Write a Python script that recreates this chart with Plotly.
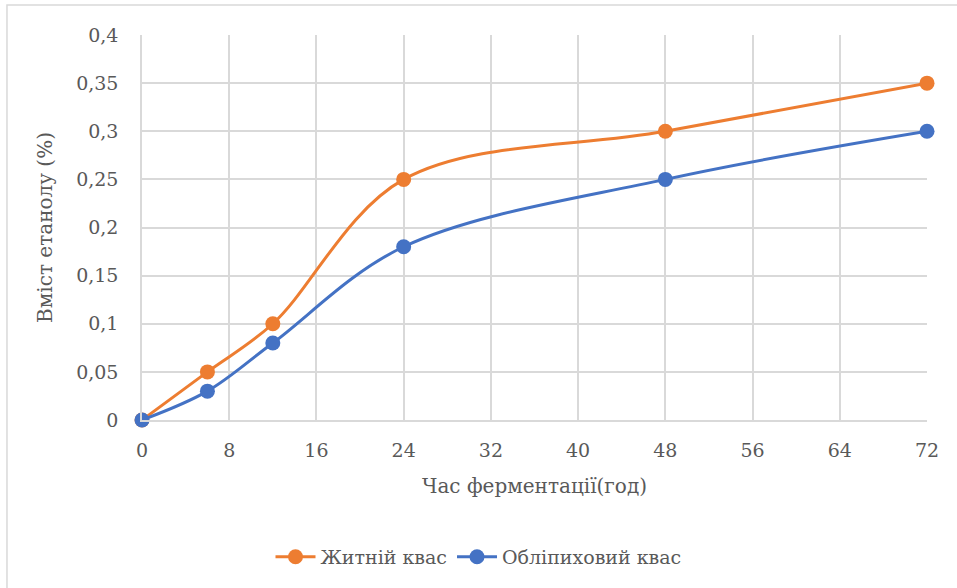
import plotly.graph_objects as go

hours = [0, 6, 12, 24, 48, 72]
rye_kvass = [0, 0.05, 0.10, 0.25, 0.30, 0.35]
buckthorn_kvass = [0, 0.03, 0.08, 0.18, 0.25, 0.30]

x_ticks = [0, 8, 16, 24, 32, 40, 48, 56, 64, 72]
y_ticks = [0, 0.05, 0.1, 0.15, 0.2, 0.25, 0.3, 0.35, 0.4]
y_tick_text = ["0", "0,05", "0,1", "0,15", "0,2", "0,25", "0,3", "0,35", "0,4"]

FONT = "DejaVu Serif"
TXT = "#595959"
GRID = "#d9d9d9"

fig = go.Figure()
fig.add_trace(go.Scatter(
    x=hours, y=rye_kvass, name="Житній квас", mode="lines+markers",
    line=dict(color="#ED7D31", width=3, shape="spline", smoothing=1),
    marker=dict(size=15, color="#ED7D31"),
))
fig.add_trace(go.Scatter(
    x=hours, y=buckthorn_kvass, name="Обліпиховий квас", mode="lines+markers",
    line=dict(color="#4472C4", width=3, shape="spline", smoothing=1),
    marker=dict(size=15, color="#4472C4"),
))

fig.update_layout(
    width=957, height=588,
    margin=dict(l=142, r=30, t=35, b=168),
    paper_bgcolor="white", plot_bgcolor="white",
    font=dict(family=FONT, color=TXT, size=19),
    showlegend=True,
    legend=dict(orientation="h", xref="container", yref="container",
                x=0.5, xanchor="center", y=0.053, yanchor="middle",
                font=dict(family=FONT, size=19, color=TXT),
                itemwidth=40, tracegroupgap=0),
    shapes=[dict(type="rect", xref="paper", yref="paper",
                 x0=-0.172, x1=1.3, y0=-1.0, y1=1.078,
                 line=dict(color="#d9d9d9", width=1.5), layer="below")],
)
fig.update_xaxes(
    range=[0, 72], tickvals=x_ticks, ticktext=[str(v) for v in x_ticks],
    showgrid=True, gridcolor=GRID, gridwidth=1.5,
    showline=True, linecolor=GRID, linewidth=1.5, mirror=False,
    zeroline=False, ticks="", ticklabelstandoff=12,
    tickfont=dict(size=19, color=TXT, family=FONT),
    title=dict(text="Час ферментації(год)", standoff=19,
               font=dict(size=20, color=TXT, family=FONT)),
)
fig.update_yaxes(
    range=[0, 0.4], tickvals=y_ticks, ticktext=y_tick_text,
    showgrid=True, gridcolor=GRID, gridwidth=1.5,
    showline=True, linecolor=GRID, linewidth=1.5,
    zeroline=False, ticks="", ticklabelstandoff=18,
    tickfont=dict(size=19, color=TXT, family=FONT),
    title=dict(text="Вміст етанолу (%)", standoff=18,
               font=dict(size=20, color=TXT, family=FONT)),
)
fig.data[0].cliponaxis = False
fig.data[1].cliponaxis = False

fig.write_html("out.html")
